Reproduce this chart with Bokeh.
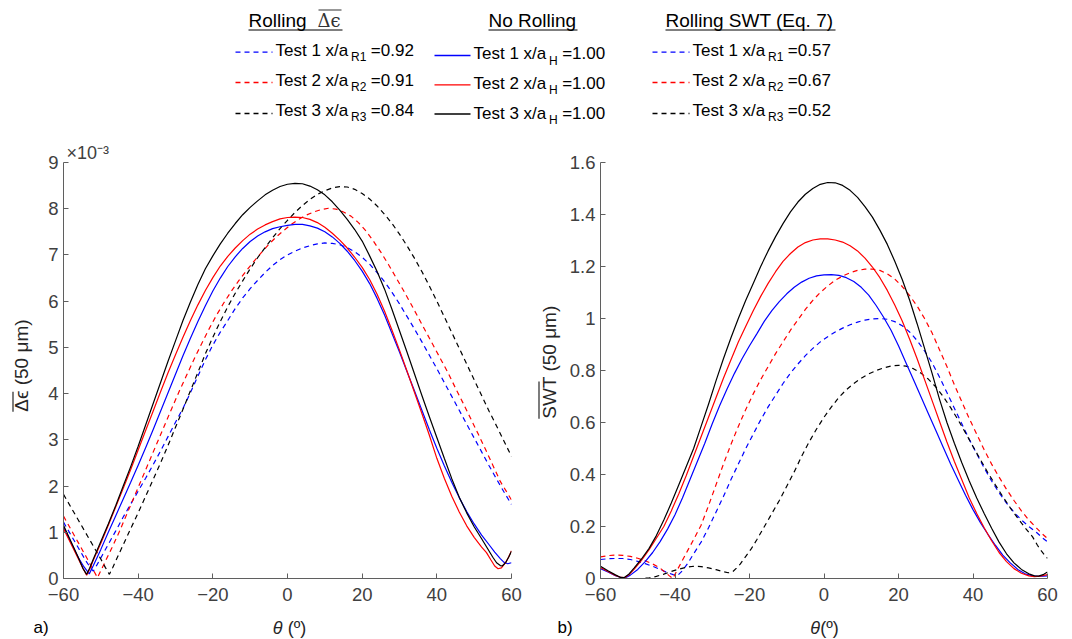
import math
from bokeh.plotting import figure
from bokeh.models import Range1d, FixedTicker, NumeralTickFormatter, Title
from bokeh.layouts import column, row
from bokeh.embed import file_html
from bokeh.resources import INLINE
from bokeh.core.properties import value

# ---------------- left panel: mean delta-epsilon (values in units of 1e-3) ----------------
th_de_nr1 = [-60, -58, -56, -54.5, -53.1, -52, -50, -48, -46, -44, -42, -40, -38, -36, -34, -32, -30, -28, -26, -24, -22, -20, -18, -16, -14, -12, -10, -8, -6, -4, -2, 0, 2, 4, 6, 8, 10, 12, 14, 16, 18, 20, 22, 24, 26, 28, 30, 32, 34, 36, 38, 40, 42, 44, 46, 48, 50, 52, 54, 55.5, 57, 58, 59, 60]
de_nr1 = [1.12, 0.78, 0.45, 0.25, 0.1, 0.28, 0.63, 1.0, 1.36, 1.72, 2.08, 2.45, 2.83, 3.22, 3.62, 4.02, 4.42, 4.82, 5.2, 5.56, 5.9, 6.22, 6.5, 6.75, 6.96, 7.14, 7.29, 7.41, 7.5, 7.57, 7.61, 7.64, 7.66, 7.66, 7.63, 7.58, 7.5, 7.39, 7.25, 7.08, 6.88, 6.65, 6.38, 6.06, 5.7, 5.3, 4.9, 4.48, 4.06, 3.64, 3.22, 2.82, 2.44, 2.08, 1.75, 1.45, 1.18, 0.94, 0.73, 0.57, 0.43, 0.35, 0.32, 0.34]

th_de_nr2 = [-60, -58, -56, -54.8, -53.8, -53, -52, -50, -48, -46, -44, -42, -40, -38, -36, -34, -32, -30, -28, -26, -24, -22, -20, -18, -16, -14, -12, -10, -8, -6, -4, -2, 0, 2, 4, 6, 8, 10, 12, 14, 16, 18, 20, 22, 24, 26, 28, 30, 32, 34, 36, 38, 40, 42, 44, 46, 48, 50, 52, 53.3, 54.5, 55.5, 56.4, 57.3, 58.3, 59.2, 60]
de_nr2 = [1.08, 0.75, 0.42, 0.22, 0.07, 0.2, 0.4, 0.76, 1.15, 1.55, 1.95, 2.36, 2.78, 3.2, 3.62, 4.04, 4.45, 4.84, 5.22, 5.58, 5.92, 6.23, 6.51, 6.76, 6.97, 7.15, 7.31, 7.45, 7.56, 7.65, 7.72, 7.78, 7.81, 7.82, 7.81, 7.77, 7.7, 7.6, 7.47, 7.32, 7.15, 6.95, 6.73, 6.47, 6.15, 5.78, 5.37, 4.94, 4.49, 4.03, 3.57, 3.1, 2.6, 2.17, 1.78, 1.44, 1.14, 0.89, 0.68, 0.56, 0.4, 0.27, 0.21, 0.23, 0.33, 0.46, 0.6]

th_de_nr3 = [-60, -58, -56, -54.8, -53.8, -53, -52, -50, -48, -46, -44, -42, -40, -38, -36, -34, -32, -30, -28, -26, -24, -22, -20, -18, -16, -14, -12, -10, -8, -6, -4, -2, 0, 2, 4, 6, 8, 10, 12, 14, 16, 18, 20, 22, 24, 26, 28, 30, 32, 34, 36, 38, 40, 42, 44, 46, 48, 50, 52, 53.5, 55, 56, 57, 57.5, 58.5, 59.3, 60]
de_nr3 = [1.15, 0.8, 0.45, 0.22, 0.09, 0.22, 0.42, 0.8, 1.18, 1.58, 2.0, 2.42, 2.86, 3.32, 3.78, 4.24, 4.7, 5.14, 5.58, 5.98, 6.36, 6.7, 6.98, 7.24, 7.47, 7.68, 7.87, 8.03, 8.17, 8.3, 8.4, 8.48, 8.53, 8.55, 8.54, 8.49, 8.41, 8.3, 8.15, 7.97, 7.77, 7.55, 7.3, 6.98, 6.64, 6.26, 5.82, 5.36, 4.9, 4.43, 3.96, 3.5, 3.05, 2.6, 2.16, 1.76, 1.42, 1.12, 0.86, 0.66, 0.46, 0.34, 0.28, 0.27, 0.35, 0.47, 0.59]

th_de_r1 = [-60, -58, -56, -54, -52.5, -52, -51, -49.5, -48, -46, -44, -42, -40, -38, -36, -34, -32, -30, -28, -26, -24, -22, -20, -18, -16, -14, -12, -10, -8, -6, -4, -2, 0, 2, 4, 6, 8, 10, 12, 14, 16, 18, 20, 22, 24, 26, 28, 30, 32, 34, 36, 38, 40, 42, 44, 46, 48, 50, 52, 54, 56, 58, 60]
de_r1 = [1.22, 0.94, 0.66, 0.38, 0.2, 0.16, 0.3, 0.52, 0.74, 1.03, 1.33, 1.61, 1.89, 2.17, 2.46, 2.76, 3.07, 3.38, 3.68, 4.02, 4.38, 4.73, 5.05, 5.33, 5.58, 5.84, 6.07, 6.27, 6.45, 6.62, 6.77, 6.9, 7.0, 7.08, 7.15, 7.2, 7.24, 7.26, 7.25, 7.22, 7.16, 7.07, 6.95, 6.8, 6.62, 6.42, 6.19, 5.94, 5.67, 5.4, 5.12, 4.83, 4.54, 4.24, 3.94, 3.64, 3.34, 3.04, 2.74, 2.44, 2.15, 1.87, 1.6]

th_de_r2 = [-60, -58, -56, -54, -52, -50.9, -50, -48.5, -47, -45, -43, -41, -39, -37, -35, -33, -31, -29, -27, -25, -23, -21, -19, -17, -15, -13, -11, -9, -7, -5, -3, -1, 1, 3, 5, 7, 9, 11, 13, 15, 17, 19, 21, 23, 25, 27, 29, 31, 33, 35, 37, 39, 41, 43, 45, 47, 49, 51, 53, 55, 57, 58.5, 60]
de_r2 = [1.35, 1.06, 0.77, 0.48, 0.18, 0.02, 0.17, 0.42, 0.67, 1.02, 1.4, 1.78, 2.16, 2.54, 2.92, 3.3, 3.68, 4.05, 4.4, 4.75, 5.08, 5.4, 5.7, 5.97, 6.22, 6.45, 6.66, 6.86, 7.05, 7.23, 7.39, 7.53, 7.66, 7.77, 7.86, 7.93, 7.98, 8.01, 7.99, 7.93, 7.84, 7.7, 7.52, 7.3, 7.06, 6.8, 6.52, 6.24, 5.95, 5.65, 5.35, 5.05, 4.75, 4.45, 4.12, 3.8, 3.47, 3.14, 2.8, 2.45, 2.1, 1.9, 1.7]

th_de_r3 = [-60, -58, -56, -54, -52, -50, -48.8, -47.7, -46.8, -45.5, -44, -42, -40, -38, -36, -34, -32, -30, -28, -26, -24, -22, -20, -18, -16, -14, -12, -10, -8, -6, -4, -2, 0, 2, 4, 6, 8, 10, 12, 14, 16, 18, 20, 22, 24, 26, 28, 30, 32, 34, 36, 38, 40, 42, 44, 46, 48, 50, 52, 54, 56, 58, 60]
de_r3 = [1.82, 1.54, 1.26, 0.98, 0.7, 0.42, 0.24, 0.09, 0.24, 0.47, 0.73, 1.08, 1.42, 1.78, 2.14, 2.5, 2.88, 3.27, 3.66, 4.06, 4.46, 4.86, 5.22, 5.56, 5.88, 6.17, 6.44, 6.7, 6.94, 7.16, 7.37, 7.57, 7.75, 7.92, 8.07, 8.2, 8.31, 8.39, 8.45, 8.48, 8.47, 8.42, 8.33, 8.21, 8.06, 7.88, 7.68, 7.45, 7.2, 6.93, 6.64, 6.33, 6.0, 5.66, 5.32, 4.98, 4.64, 4.3, 3.96, 3.62, 3.3, 2.97, 2.64]

# ---------------- right panel: mean SWT ----------------
th_swt_nr1 = [-60, -58, -56, -54.3, -53.3, -52, -50, -48, -46, -44, -42, -40, -38, -36, -34, -32, -30, -28, -26, -24, -22, -20, -18, -16, -14, -12, -10, -8, -6, -4, -2, 0, 2, 4, 6, 8, 10, 12, 14, 16, 18, 20, 22, 24, 26, 28, 30, 32, 34, 36, 38, 40, 42, 44, 46, 48, 50, 52, 54, 56, 57.6, 60]
swt_nr1 = [0.038, 0.025, 0.011, 0.003, 0.003, 0.013, 0.035, 0.065, 0.1, 0.142, 0.19, 0.245, 0.31, 0.38, 0.45, 0.52, 0.595, 0.665, 0.73, 0.79, 0.845, 0.895, 0.942, 0.99, 1.03, 1.065, 1.095, 1.12, 1.14, 1.155, 1.164, 1.168, 1.169, 1.166, 1.157, 1.142, 1.12, 1.09, 1.05, 1.005, 0.955, 0.895, 0.83, 0.765, 0.7, 0.635, 0.57, 0.505, 0.44, 0.38, 0.32, 0.265, 0.215, 0.17, 0.128, 0.09, 0.06, 0.035, 0.018, 0.01, 0.008, 0.01]

th_swt_nr2 = [-60, -58, -56, -54.5, -53.5, -52.3, -51, -49, -47, -45, -43, -41, -39, -37, -35, -33, -31, -29, -27, -25, -23, -21, -19, -17, -15, -13, -11, -9, -7, -5, -3, -1, 1, 3, 5, 7, 9, 11, 13, 15, 17, 19, 21, 23, 25, 27, 29, 31, 33, 35, 37, 39, 41, 43, 45, 47, 49, 51, 53, 55, 56.5, 58, 60]
swt_nr2 = [0.042, 0.027, 0.012, 0.004, 0.003, 0.015, 0.035, 0.07, 0.11, 0.155, 0.2, 0.26, 0.325, 0.395, 0.47, 0.545, 0.62, 0.695, 0.77, 0.84, 0.91, 0.97, 1.03, 1.085, 1.135, 1.18, 1.22, 1.25, 1.275, 1.292, 1.302, 1.306, 1.306, 1.302, 1.294, 1.28, 1.26, 1.232, 1.198, 1.157, 1.108, 1.052, 0.99, 0.92, 0.845, 0.765, 0.685, 0.605, 0.525, 0.45, 0.38, 0.31, 0.25, 0.195, 0.145, 0.1, 0.065, 0.038, 0.02, 0.01, 0.007, 0.009, 0.015]

th_swt_nr3 = [-60, -58, -56, -54.6, -53.7, -52.5, -51, -49, -47, -45, -43, -41, -39, -37, -35, -33, -31, -29, -27, -25, -23, -21, -19, -17, -15, -13, -11, -9, -7, -5, -3, -1, 1, 3, 5, 7, 9, 11, 13, 15, 17, 19, 21, 23, 25, 27, 29, 31, 33, 35, 37, 39, 41, 43, 45, 47, 49, 51, 53, 55, 56.5, 57.6, 59, 60]
swt_nr3 = [0.047, 0.03, 0.014, 0.004, 0.003, 0.015, 0.04, 0.075, 0.115, 0.165, 0.225, 0.29, 0.36, 0.43, 0.5, 0.585, 0.67, 0.76, 0.845, 0.925, 1.0, 1.07, 1.135, 1.2, 1.26, 1.315, 1.365, 1.41, 1.448, 1.478, 1.5, 1.516, 1.523, 1.522, 1.512, 1.493, 1.466, 1.43, 1.39, 1.34, 1.285, 1.22, 1.15, 1.07, 0.98, 0.885, 0.79, 0.69, 0.6, 0.52, 0.445, 0.375, 0.31, 0.25, 0.193, 0.14, 0.095, 0.06, 0.035, 0.018, 0.01, 0.009, 0.016, 0.025]

th_swt_r1 = [-60, -58, -56, -54, -52, -50, -48, -46, -44, -42, -40.5, -39.2, -38, -36.5, -35, -33, -31, -29, -27, -25, -23, -21, -19, -17, -15, -13, -11, -9, -7, -5, -3, -1, 1, 3, 5, 7, 9, 11, 13, 15, 17, 19, 21, 23, 25, 27, 29, 31, 33, 35, 37, 39, 41, 43, 45, 47, 49, 51, 53, 55, 57, 58.5, 60]
swt_r1 = [0.073, 0.076, 0.077, 0.077, 0.073, 0.066, 0.057, 0.047, 0.035, 0.022, 0.015, 0.013, 0.03, 0.06, 0.095, 0.14, 0.195, 0.255, 0.315, 0.38, 0.44, 0.5, 0.555, 0.61, 0.66, 0.705, 0.75, 0.79, 0.825, 0.857, 0.885, 0.91, 0.93, 0.948, 0.963, 0.976, 0.986, 0.994, 0.998, 1.0, 0.997, 0.988, 0.972, 0.948, 0.915, 0.875, 0.83, 0.775, 0.715, 0.655, 0.595, 0.535, 0.48, 0.425, 0.375, 0.33, 0.29, 0.255, 0.225, 0.2, 0.178, 0.158, 0.141]

th_swt_r2 = [-60, -58, -56, -54, -52, -50, -48, -46, -44, -42.5, -41.5, -40.6, -39.5, -38, -36.5, -35, -33, -31, -29, -27, -25, -23, -21, -19, -17, -15, -13, -11, -9, -7, -5, -3, -1, 1, 3, 5, 7, 9, 11, 13, 15, 17, 19, 21, 23, 25, 27, 29, 31, 33, 35, 37, 39, 41, 43, 45, 47, 49, 51, 53, 55, 57, 58.5, 60]
swt_r2 = [0.083, 0.088, 0.09, 0.089, 0.085, 0.078, 0.068, 0.056, 0.04, 0.022, 0.01, 0.0, 0.03, 0.07, 0.11, 0.15, 0.205, 0.28, 0.36, 0.44, 0.515, 0.585, 0.65, 0.71, 0.765, 0.815, 0.865, 0.91, 0.955, 0.995, 1.035, 1.07, 1.1, 1.125, 1.147, 1.163, 1.176, 1.185, 1.19, 1.19, 1.185, 1.172, 1.152, 1.123, 1.088, 1.048, 1.0, 0.945, 0.88, 0.815, 0.745, 0.68, 0.615, 0.555, 0.495, 0.44, 0.39, 0.343, 0.3, 0.26, 0.225, 0.195, 0.173, 0.154]

th_swt_r3 = [-60, -56, -52, -49, -47, -45, -43, -41, -39, -37, -35, -33, -31, -29, -27, -25.7, -24.5, -23.5, -22.5, -21, -19.5, -18, -16, -14, -12, -10, -8, -6, -4, -2, 0, 2, 4, 6, 8, 10, 12, 14, 16, 18, 20, 22, 24, 26, 28, 30, 32, 34, 36, 38, 40, 42, 44, 46, 48, 50, 52, 54, 56, 57.3, 58.5, 60]
swt_r3 = [0.0, 0.0, 0.0, 0.0, 0.002, 0.008, 0.017, 0.027, 0.036, 0.043, 0.047, 0.046, 0.041, 0.034, 0.026, 0.022, 0.026, 0.04, 0.055, 0.085, 0.115, 0.15, 0.2, 0.25, 0.3, 0.355, 0.41, 0.47, 0.525, 0.575, 0.62, 0.66, 0.697, 0.726, 0.75, 0.77, 0.787, 0.8, 0.81, 0.817, 0.82, 0.817, 0.807, 0.79, 0.767, 0.737, 0.7, 0.657, 0.61, 0.56, 0.508, 0.457, 0.407, 0.36, 0.315, 0.272, 0.232, 0.195, 0.16, 0.128, 0.103, 0.077]

# ---------------- ticks and texts ----------------
x_ticks = [-60, -40, -20, 0, 20, 40, 60]
y_ticks_de = [0, 1, 2, 3, 4, 5, 6, 7, 8, 9]
y_ticks_swt = [0, 0.2, 0.4, 0.6, 0.8, 1, 1.2, 1.4, 1.6]

legend_headers = ["Rolling", "No Rolling", "Rolling SWT (Eq. 7)"]
legend_tests = ["Test 1 x/a", "Test 2 x/a", "Test 3 x/a"]
legend_sub_roll = ["R1", "R2", "R3"]
legend_sub_nr = ["H", "H", "H"]
legend_val_de = ["=0.92", "=0.91", "=0.84"]
legend_val_nr = ["=1.00", "=1.00", "=1.00"]
legend_val_swt = ["=0.57", "=0.67", "=0.52"]
ylabel_texts = ["Δϵ (50 μm)", "SWT (50 μm)"]
xlabel_texts = ["(º)", "(º)"]
panel_tags = ["a)", "b)"]

FONT = "Liberation Sans"
BLUE, RED, BLACK = "#0000ff", "#ff0000", "#000000"
DASH = "5 4"
LW = 1.2
AXC = "#5f5f5f"
TICKC = "#404040"
LABC = "#262626"
TXT_SHIFT = 7  # compensates the baseline placement of text glyphs


def strip(w, h):
    s = figure(width=w, height=h, x_range=Range1d(0, w), y_range=Range1d(h, 0), title=None,
               output_backend="svg", toolbar_location=None, min_border=0,
               x_axis_location=None, y_axis_location=None)
    s.outline_line_color = None
    s.grid.visible = False
    s.background_fill_color = "white"
    s.border_fill_color = "white"
    return s


def txt(s, x, y, t, size, color="black", font=FONT, style="normal", angle=0.0):
    s.text([x], [y], text=[t], text_font=value(font), text_font_size=size, text_font_style=style,
           text_baseline="alphabetic", text_align="left", text_color=color, angle=angle)


def style_axes(p, xstand, ystand):
    p.outline_line_color = None
    p.grid.visible = False
    p.background_fill_color = "white"
    p.border_fill_color = "white"
    for ax in (p.xaxis[0], p.yaxis[0]):
        ax.axis_line_color = AXC
        ax.axis_line_width = 1
        ax.major_tick_line_color = AXC
        ax.major_tick_in = 5
        ax.major_tick_out = 0
        ax.minor_tick_line_color = None
        ax.major_label_text_font = FONT
        ax.major_label_text_font_size = "18.5px"
        ax.major_label_text_color = TICKC
    p.xaxis.major_label_standoff = xstand
    p.yaxis.major_label_standoff = ystand
    p.xaxis.ticker = FixedTicker(ticks=x_ticks)


# ---------------- legend strip (top) ----------------
lg = strip(1072, 140)
SUBW = {"R": 0.722, "H": 0.722, "1": 0.556, "2": 0.556, "3": 0.556}
cols = [
    dict(x0=275, line=(235, 272), dash=DASH, subs=legend_sub_roll, vals=legend_val_de,
         base=[56.7, 86.7, 116.7], ly=[51.7, 82.0, 113.0]),
    dict(x0=473, line=(434, 470), dash="solid", subs=legend_sub_nr, vals=legend_val_nr,
         base=[60.0, 89.5, 119.5], ly=[55.0, 84.3, 113.5]),
    dict(x0=692, line=(652, 689), dash=DASH, subs=legend_sub_roll, vals=legend_val_swt,
         base=[56.7, 86.7, 116.7], ly=[51.7, 82.0, 113.0]),
]
row_colors = [BLUE, RED, BLACK]
for c in cols:
    for i in range(3):
        lg.line([c["line"][0], c["line"][1]], [c["ly"][i], c["ly"][i]], line_color=row_colors[i],
                line_width=1.3, line_dash=c["dash"])
        subx = c["x0"] + 75.5
        subw = sum(SUBW.get(ch, 0.556) for ch in c["subs"][i]) * 12
        b = c["base"][i] - TXT_SHIFT
        txt(lg, c["x0"], b, legend_tests[i], "17px")
        txt(lg, subx, b + 7, c["subs"][i], "12px")
        txt(lg, subx + subw + 4.5, b, c["vals"][i], "17px")

hdr_x = [248, 488, 665]
hdr_end = [342, 577, 835]
for i in range(3):
    txt(lg, hdr_x[i], 26.7 - TXT_SHIFT, legend_headers[i], "19px")
    lg.line([hdr_x[i], hdr_end[i]], [29.5, 29.5], line_color="black", line_width=1.2)
txt(lg, 317, 26.7 - TXT_SHIFT, "Δϵ", "18px", color="#333333", font="DejaVu Serif")
lg.line([318, 341], [9.5, 9.5], line_color="#333333", line_width=1.2)

# ---------------- left y-label strip ----------------
sL = strip(40, 470)
txt(sL, 27.8 - TXT_SHIFT, 281.5, ylabel_texts[0], "19px", color=LABC, angle=math.pi / 2)
sL.line([12.5, 12.5], [281.5, 259.0], line_color=LABC, line_width=1.2)

# ---------------- left panel ----------------
p1 = figure(width=496, height=470, x_range=Range1d(-60, 60), y_range=Range1d(0, 9), title=None,
            output_backend="svg", toolbar_location=None,
            min_border_left=23, min_border_right=25, min_border_top=22, min_border_bottom=32)
style_axes(p1, 9, 5)
p1.yaxis.ticker = FixedTicker(ticks=y_ticks_de)
p1.add_layout(Title(text="×10⁻³", align="left", offset=3, standoff=0, text_font=FONT,
                    text_font_size="18px", text_font_style="normal", text_color=TICKC), "above")

p1.line(th_de_r1, de_r1, line_color=BLUE, line_width=LW, line_dash=DASH)
p1.line(th_de_r2, de_r2, line_color=RED, line_width=LW, line_dash=DASH)
p1.line(th_de_r3, de_r3, line_color=BLACK, line_width=LW, line_dash=DASH)
p1.line(th_de_nr1, de_nr1, line_color=BLUE, line_width=LW)
p1.line(th_de_nr2, de_nr2, line_color=RED, line_width=LW)
p1.line(th_de_nr3, de_nr3, line_color=BLACK, line_width=LW)

# ---------------- middle y-label strip ----------------
sM = strip(26, 470)
txt(sM, 19.8 - TXT_SHIFT, 289.5, ylabel_texts[1], "19px", color=LABC, angle=math.pi / 2)
sM.line([2.5, 2.5], [289.5, 247.5], line_color=LABC, line_width=1.2)

# ---------------- right panel ----------------
p2 = figure(width=510, height=470, x_range=Range1d(-60, 60), y_range=Range1d(0, 1.6), title=None,
            output_backend="svg", toolbar_location=None,
            min_border_left=38, min_border_right=25, min_border_top=22, min_border_bottom=32)
style_axes(p2, 9, 5)
p2.yaxis.ticker = FixedTicker(ticks=y_ticks_swt)
p2.yaxis.formatter = NumeralTickFormatter(format="0.[0]")

p2.line(th_swt_r1, swt_r1, line_color=BLUE, line_width=LW, line_dash=DASH)
p2.line(th_swt_r2, swt_r2, line_color=RED, line_width=LW, line_dash=DASH)
p2.line(th_swt_r3, swt_r3, line_color=BLACK, line_width=LW, line_dash=DASH)
p2.line(th_swt_nr1, swt_nr1, line_color=BLUE, line_width=LW)
p2.line(th_swt_nr2, swt_nr2, line_color=RED, line_width=LW)
p2.line(th_swt_nr3, swt_nr3, line_color=BLACK, line_width=LW)

# ---------------- bottom strip: x labels and panel tags ----------------
sB = strip(1072, 29)
base_b = 24.4 - TXT_SHIFT
txt(sB, 33, base_b, panel_tags[0], "17px")
txt(sB, 272.2, base_b, "θ", "18px", color=LABC, style="italic")
txt(sB, 287.2, base_b, xlabel_texts[0], "18px", color=LABC)
txt(sB, 557, base_b, panel_tags[1], "17px")
txt(sB, 809.7, base_b, "θ", "18px", color=LABC, style="italic")
txt(sB, 819.7, base_b, xlabel_texts[1], "18px", color=LABC)

layout = column(lg, row(sL, p1, sM, p2, spacing=0), sB, spacing=0)
open("out.html", "w").write(file_html(layout, INLINE))
